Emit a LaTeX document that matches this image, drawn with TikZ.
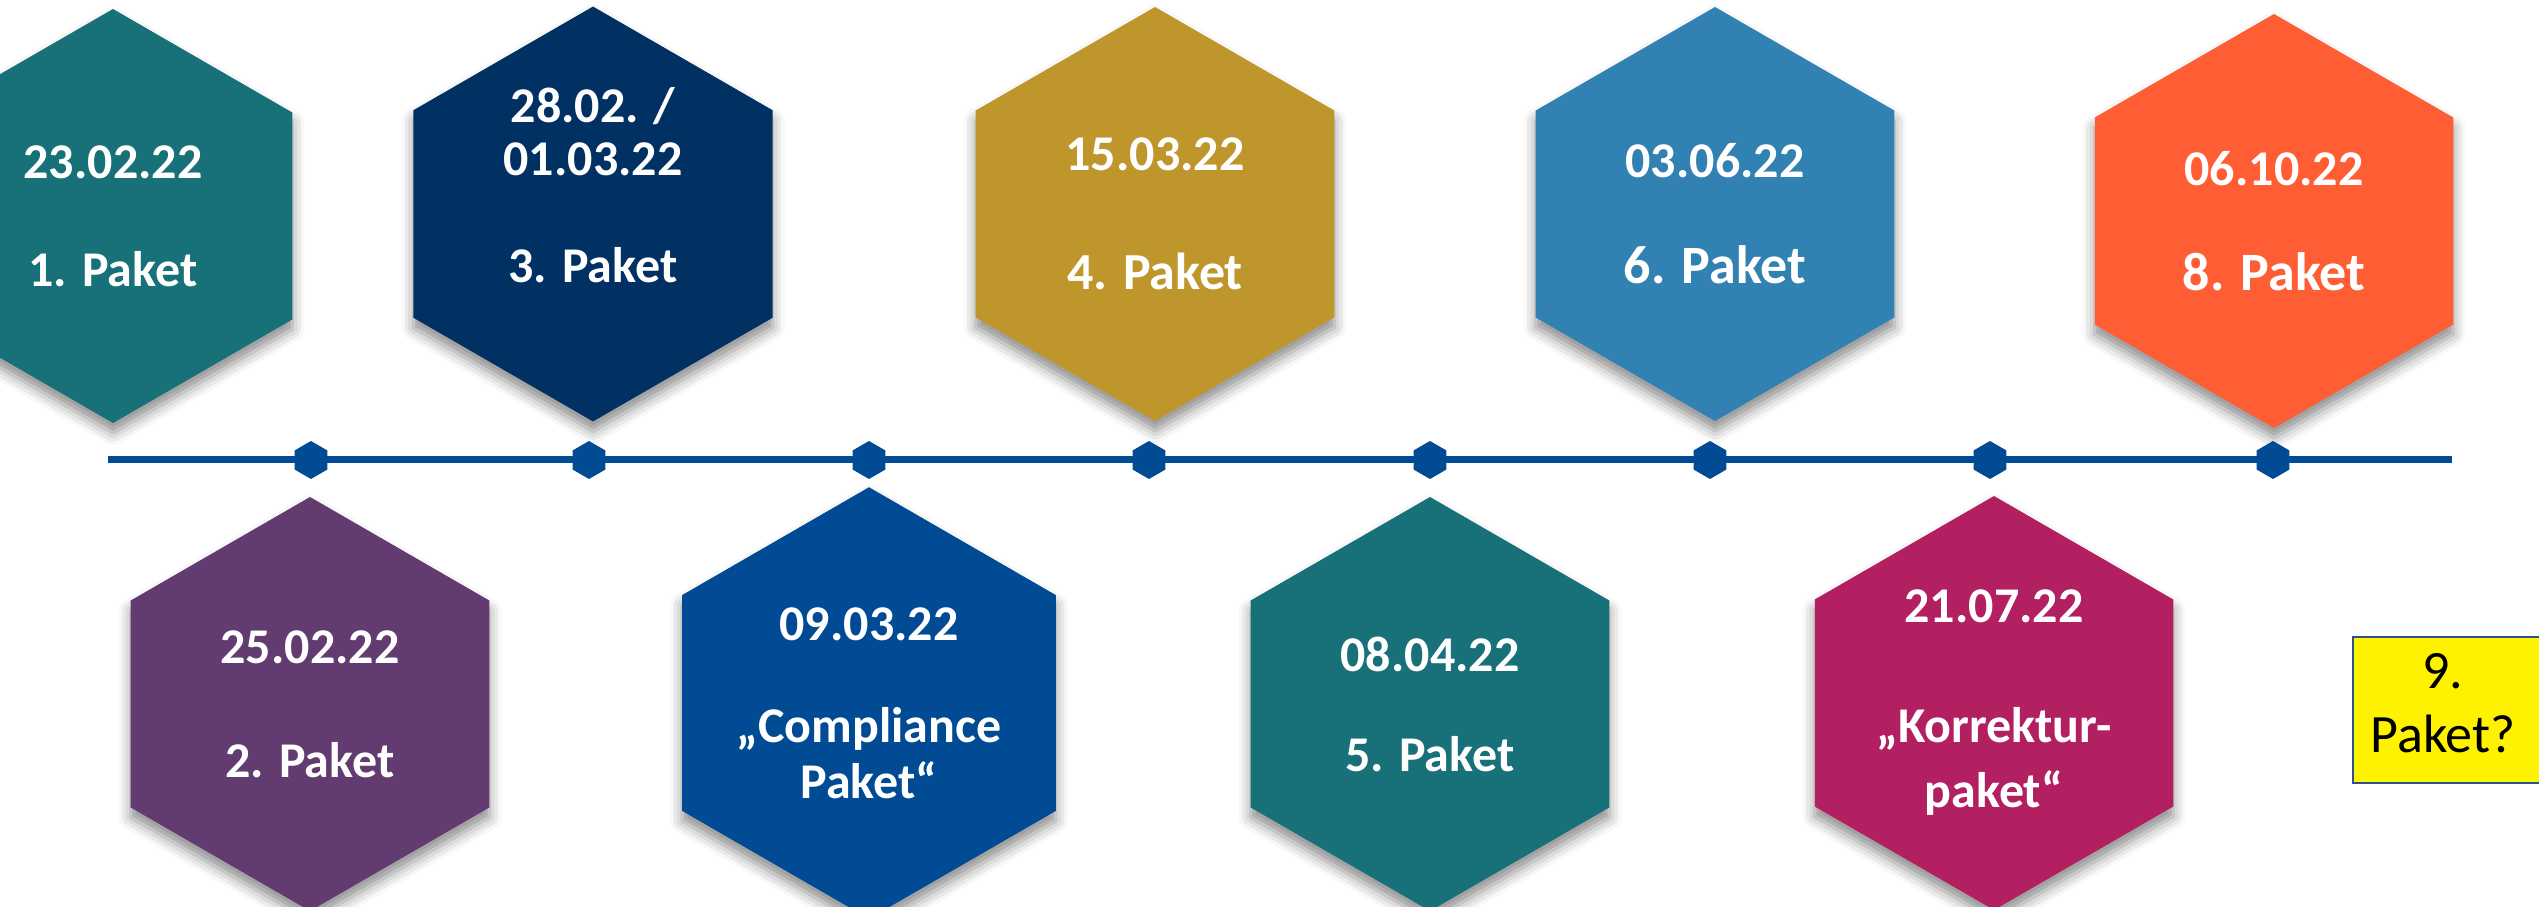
\documentclass[tikz,border=0pt]{standalone}
\usepackage{fontspec}
\setmainfont{Carlito}
\usetikzlibrary{shapes.geometric, shadows.blur, positioning}

\definecolor{tealpk}{HTML}{187078}
\definecolor{purplepk}{HTML}{623B70}
\definecolor{navypk}{HTML}{003162}
\definecolor{bluepk}{HTML}{004B93}
\definecolor{goldpk}{HTML}{BF962B}
\definecolor{skypk}{HTML}{3181B3}
\definecolor{magentapk}{HTML}{B22062}
\definecolor{orangepk}{HTML}{FF5E35}
\definecolor{lineblue}{HTML}{004B93}
\definecolor{boxblue}{HTML}{2F528F}

\tikzset{
  hexa/.style={regular polygon, regular polygon sides=6, shape border rotate=30,
    minimum size=103.5pt, inner sep=0pt,
    text=white, align=center, font=\fontsize{12.5}{15}\selectfont\bfseries,
    blur shadow={shadow xshift=0pt, shadow yshift=-2.5pt, shadow blur radius=3pt, shadow opacity=45}},
  tick/.style={regular polygon, regular polygon sides=6, shape border rotate=30,
    minimum size=9.5pt, inner sep=0pt, fill=lineblue}
}

\begin{document}
\begin{tikzpicture}[x=0.25pt, y=-0.25pt]
    \useasboundingbox (0,0) rectangle (2539,907);

    % Pakete oben
    \node[hexa, fill=tealpk] (p1) at (113,216) {23.02.22\\[12pt]1. Paket};
    \node[hexa, fill=navypk] (p3) at (593,214) {28.02. /\\[-1.75pt]01.03.22\\[11.75pt]3. Paket\\[-0.25pt]~};
    \node[hexa, fill=goldpk] (p4) at (1155,214) {15.03.22\\[14.75pt]{\fontsize{13}{15}\selectfont 4. Paket}};
    \node[hexa, fill=skypk] (p6) at (1715,214) {03.06.22\\[11.5pt]{\fontsize{13.5}{15}\selectfont 6. Paket}};
    \node[hexa, fill=orangepk] (p8) at (2274,221) {06.10.22\\[11.25pt]{\fontsize{13.5}{15}\selectfont 8. Paket}};

    % Pakete unten
    \node[hexa, fill=purplepk] (p2) at (310,704) {25.02.22\\[13.5pt]2. Paket};
    \node[hexa, fill=bluepk] (pc) at (869,703) {09.03.22\\[10.5pt]„Compliance\\[-1pt]Paket“};
    \node[hexa, fill=tealpk] (p5) at (1430,704) {08.04.22\\[10pt]5. Paket};
    \node[hexa, fill=magentapk] (pk) at (1994,703) {21.07.22\\[15pt]„Korrektur-\\[1.25pt]paket“};

    % Zeitstrahl
    \coordinate (tl-start) at (108,460);
    \coordinate (tl-end) at (2452,460);
    \draw[line width=1.75pt, lineblue] (tl-start) -- (tl-end);
    \foreach \x [count=\i] in {311,589,869,1149,1430,1710,1990,2273}
        \node[tick] (m\i) at (\x,460) {};

    % offenes Paket
    \filldraw[fill=yellow, draw=boxblue, line width=0.4pt] (2353,637) rectangle (2600,783);
    \node[font=\fontsize{13.5}{16}\selectfont, align=center, inner sep=0pt] (p9) at (2443,703) {9.\\Paket?};
\end{tikzpicture}
\end{document}
